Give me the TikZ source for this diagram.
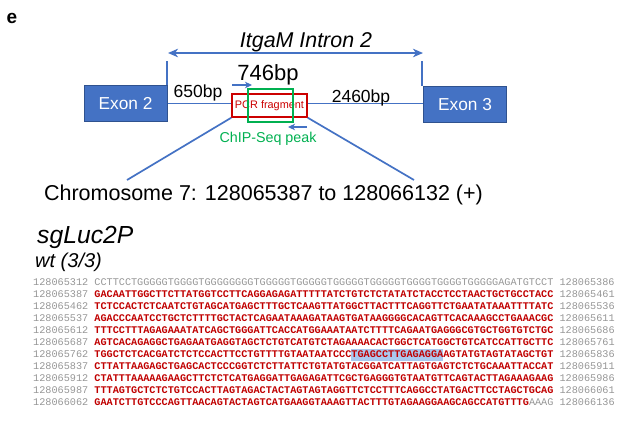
\documentclass[tikz,border=0pt]{standalone}
\usepackage{fontspec}
\setmainfont{Liberation Sans}
\newfontfamily\seqfont{Liberation Mono}
\usepackage{tikz}
\usetikzlibrary{arrows.meta,positioning,calc}
\definecolor{exonblue}{RGB}{68,114,196}
\definecolor{exonedge}{RGB}{47,82,143}
\definecolor{pcrred}{RGB}{204,0,0}
\definecolor{peakgreen}{RGB}{0,176,80}
\definecolor{seqred}{RGB}{192,0,0}
\definecolor{seqgrey}{RGB}{150,150,150}
\definecolor{hlblue}{RGB}{170,200,238}

% one row of the alignment: start position, bases, end position
\newcommand{\seqline}[3]{\textcolor{seqgrey}{#1}\ \textcolor{seqred}{\bfseries #2}\ \textcolor{seqgrey}{#3}}

\begin{document}
\begin{tikzpicture}[x=1pt,y=-1pt,
  exon/.style={draw=exonedge, fill=exonblue, line width=1pt, text=white, minimum width=83, minimum height=36, inner sep=0, font=\fontsize{17.3}{20}\selectfont},
  guide/.style={draw=exonblue, line width=1.7pt},
  bigtip/.style={arrows={Stealth[length=10pt,width=8.5pt,inset=3pt]-Stealth[length=10pt,width=8.5pt,inset=3pt]}},
  primer/.style={arrows={-Stealth[length=7pt,width=6.5pt,inset=2pt]}},
  bplabel/.style={anchor=base, font=\fontsize{17.5}{20}\selectfont},
  seqrow/.style={anchor=base west, inner sep=0, font=\seqfont\fontsize{10.2}{12}\selectfont}]
\useasboundingbox (0,0) rectangle (617,421);

\node [anchor=base, font=\bfseries\fontsize{19}{22}\selectfont] (panel) at (12,23) {e};

%gene model
\node [anchor=base, font=\itshape\fontsize{21.4}{25}\selectfont] (intron) at (306,47) {ItgaM Intron 2};
\coordinate (arrL) at (168,53);
\coordinate (arrR) at (423,53);
\draw [guide, bigtip] (arrL) -- (arrR);

\node [exon] (exon2) at (125.5,103.5) {Exon 2};
\node [exon] (exon3) at (465,104.5) {Exon 3};
\coordinate (tickL) at (167,61);
\coordinate (tickR) at (422,61);
\draw [guide] (tickL) -- (tickL |- exon2.north);
\draw [guide] (tickR) -- (tickR |- exon3.north);

\node [draw=pcrred, line width=1.4pt, fill=white, minimum width=75, minimum height=23, inner sep=0, text=pcrred, font=\fontsize{10.9}{12}\selectfont] (pcr) at (269.5,105.5) {PCR fragment};
\draw [guide] (exon2.east) -- (exon2.east -| pcr.west);
\draw [guide] (pcr.east |- exon2.east) -- (exon2.east -| exon3.west);
\node [draw=peakgreen, line width=1.4pt, minimum width=45, minimum height=33, inner sep=0] (peak) at (270.5,105.5) {};

\node [anchor=base, font=\fontsize{22}{26}\selectfont] (size) at (268,80) {746bp};
\node [bplabel] (up) at (198,97) {650bp};
\node [bplabel] (down) at (361,102) {2460bp};

%primers
\coordinate (fwdS) at (232,85);
\coordinate (fwdE) at (252,85);
\coordinate (revS) at (307,127);
\coordinate (revE) at (288,127);
\draw [guide, primer] (fwdS) -- (fwdE);
\draw [guide, primer] (revS) -- (revE);

\node [anchor=base, text=peakgreen, font=\fontsize{14.3}{17}\selectfont] (peaklabel) at (268,142) {ChIP-Seq peak};

%zoom to the genomic coordinates
\node [anchor=base, font=\fontsize{21.5}{25}\selectfont] (chrom) at (263.5,200) {Chromosome 7: 128065387 to 128066132 (+)};
\coordinate (zoomL) at (127,180);
\coordinate (zoomR) at (414,180);
\draw [guide] (pcr.south west) -- (zoomL);
\draw [guide] (pcr.south east) -- (zoomR);

%sequencing result
\node [anchor=base west, inner sep=0, font=\itshape\fontsize{24.7}{28}\selectfont] (guideRNA) at (37,243) {sgLuc2P};
\node [anchor=base west, inner sep=0, font=\itshape\fontsize{20}{24}\selectfont] (clones) at (35,267) {wt (3/3)};

\setlength{\fboxsep}{0pt}
\node [seqrow, text=seqgrey] (row1) at (33,285.5) {128065312 CCTTCCTGGGGGTGGGGTGGGGGGGGTGGGGGTGGGGGTGGGGGTGGGGGTGGGGTGGGGTGGGGGAGATGTCCT 128065386};
\node [seqrow] (row2) at (33,297.5) {\seqline{128065387}{GACAATTGGCTTCTTATGGTCCTTCAGGAGAGATTTTTATCTGTCTCTATATCTACCTCCTAACTGCTGCCTACC}{128065461}};
\node [seqrow] (row3) at (33,309.5) {\seqline{128065462}{TCTCCACTCTCAATCTGTAGCATGAGCTTTGCTCAAGTTATGGCTTACTTTCAGGTTCTGAATATAAATTTTATC}{128065536}};
\node [seqrow] (row4) at (33,321.5) {\seqline{128065537}{AGACCCAATCCTGCTCTTTTGCTACTCAGAATAAAGATAAGTGATAAGGGGCACAGTTCACAAAGCCTGAAACGC}{128065611}};
\node [seqrow] (row5) at (33,333.5) {\seqline{128065612}{TTTCCTTTAGAGAAATATCAGCTGGGATTCACCATGGAAATAATCTTTTCAGAATGAGGGCGTGCTGGTGTCTGC}{128065686}};
\node [seqrow] (row6) at (33,345.5) {\seqline{128065687}{AGTCACAGAGGCTGAGAATGAGGTAGCTCTGTCATGTCTAGAAAACACTGGCTCATGGCTGTCATCCATTGCTTC}{128065761}};
\node [seqrow] (row7) at (33,357.5) {\seqline{128065762}{TGGCTCTCACGATCTCTCCACTTCCTGTTTTGTAATAATCCC\colorbox{hlblue}{\strut TGAGCCTTGAGAGGA}AGTATGTAGTATAGCTGT}{128065836}};
\node [seqrow] (row8) at (33,369.5) {\seqline{128065837}{CTTATTAAGAGCTGAGCACTCCCGGTCTCTTATTCTGTATGTACGGATCATTAGTGAGTCTCTGCAAATTACCAT}{128065911}};
\node [seqrow] (row9) at (33,381.5) {\seqline{128065912}{CTATTTAAAAAGAAGCTTCTCTCATGAGGATTGAGAGATTCGCTGAGGGTGTAATGTTCAGTACTTAGAAAGAAG}{128065986}};
\node [seqrow] (row10) at (33,393.5) {\seqline{128065987}{TTTAGTGCTCTCTGTCCACTTAGTAGACTACTAGTAGTAGGTTCTCCTTTCAGGCCTATGACTTCCTAGCTGCAG}{128066061}};
\node [seqrow] (row11) at (33,405.5) {\seqline{128066062}{GAATCTTGTCCCAGTTAACAGTACTAGTCATGAAGGTAAAGTTACTTTGTAGAAGGAAGCAGCCATGTTTG\textcolor{seqgrey}{\mdseries AAAG}}{128066136}};

\end{tikzpicture}
\end{document}
